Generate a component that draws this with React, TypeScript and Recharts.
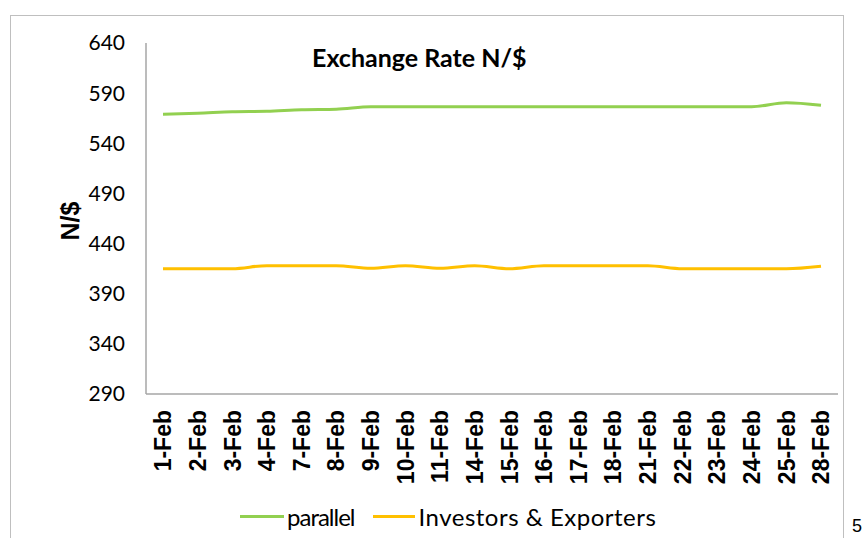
import React from "react";
import { LineChart, Line, XAxis, YAxis } from "recharts";

const dates = ["1-Feb", "2-Feb", "3-Feb", "4-Feb", "7-Feb", "8-Feb", "9-Feb", "10-Feb", "11-Feb", "14-Feb", "15-Feb", "16-Feb", "17-Feb", "18-Feb", "21-Feb", "22-Feb", "23-Feb", "24-Feb", "25-Feb", "28-Feb"];
const parallel = [569, 570, 571.5, 572, 573.5, 574, 576.5, 576.5, 576.5, 576.5, 576.5, 576.5, 576.5, 576.5, 576.5, 576.5, 576.5, 576.5, 580.5, 578];
const investors = [415, 415, 415, 418, 418, 418, 415.5, 418, 415.5, 418, 415, 418, 418, 418, 418, 415, 415, 415, 415, 417.5];
const yTicks = [290, 340, 390, 440, 490, 540, 590, 640];

const seriesNames = ["parallel", "Investors & Exporters"];
const colors = ["#92D050", "#FFC000"];

const data = dates.map((d, i) => ({ date: d, parallel: parallel[i], investors: investors[i] }));

const XTick = (props: any) => {
  const { x, y, payload } = props;
  return (
    <g transform={`translate(${x},${y})`}>
      <text
        transform="rotate(-90)"
        textAnchor="end"
        dy="0.36em"
        fill="#000"
        fontFamily="'Liberation Sans', Arial, sans-serif"
        fontWeight="bold"
        fontSize={23}
      >
        {payload.value}
      </text>
    </g>
  );
};

const YLabel = (props: any) => {
  const { viewBox } = props;
  const cx = viewBox.x - 16;
  const cy = 221;
  return (
    <text
      x={cx}
      y={cy}
      transform={`rotate(-90, ${cx}, ${cy})`}
      textAnchor="middle"
      dy="0.36em"
      fill="#000"
      fontFamily="'Liberation Sans', Arial, sans-serif"
      fontWeight="bold"
      fontSize={25}
    >
      N/$
    </text>
  );
};

export default function App() {
  return (
    <div style={{ position: "absolute", left: 0, top: 0, width: 862, height: 538, background: "#fff", overflow: "hidden" }}>
      <div style={{ position: "absolute", left: 10, top: 15, width: 832, height: 540, border: "1px solid #bfbfbf" }} />
      <LineChart width={862} height={538} data={data} margin={{ top: 43, right: 24, left: 86, bottom: 54 }}>
        <XAxis
          dataKey="date"
          height={90}
          interval={0}
          padding={{ left: 17, right: 17 }}
          tick={<XTick />}
          tickLine={false}
          tickSize={0}
          tickMargin={16}
          stroke="#a6a6a6"
          strokeWidth={1.5}
        />
        <YAxis
          width={60}
          domain={[290, 640]}
          ticks={yTicks}
          interval={0}
          tickLine={false}
          tickSize={0}
          tickMargin={21}
          stroke="#a6a6a6"
          strokeWidth={1.5}
          tick={{ fill: "#000", fontFamily: "Lato, 'Open Sans', sans-serif", fontSize: 21 }}
          label={<YLabel />}
        />
        <Line type="monotone" dataKey="parallel" name={seriesNames[0]} stroke={colors[0]} strokeWidth={3} dot={false} isAnimationActive={false} />
        <Line type="monotone" dataKey="investors" name={seriesNames[1]} stroke={colors[1]} strokeWidth={3} dot={false} isAnimationActive={false} />
      </LineChart>
      <div style={{ position: "absolute", left: 312, top: 40, fontFamily: "Lato, sans-serif", fontWeight: "bold", fontSize: 25, color: "#000", whiteSpace: "nowrap", lineHeight: "34px" }}>
        Exchange Rate N/$
      </div>
      <div style={{ position: "absolute", left: 240, top: 500, display: "flex", alignItems: "center", fontFamily: "Lato, sans-serif", fontSize: 24, color: "#000", whiteSpace: "nowrap", height: 32 }}>
        <span style={{ display: "inline-block", width: 44, height: 3, background: colors[0], marginRight: 3 }} />
        <span style={{ marginRight: 18, letterSpacing: -1 }}>{seriesNames[0]}</span>
        <span style={{ display: "inline-block", width: 42, height: 3, background: colors[1], marginRight: 4 }} />
        <span style={{ letterSpacing: 0.5 }}>{seriesNames[1]}</span>
      </div>
      <div style={{ position: "absolute", left: 852, top: 516, fontFamily: "'Liberation Sans', Arial, sans-serif", fontSize: 18, color: "#000" }}>5</div>
    </div>
  );
}
